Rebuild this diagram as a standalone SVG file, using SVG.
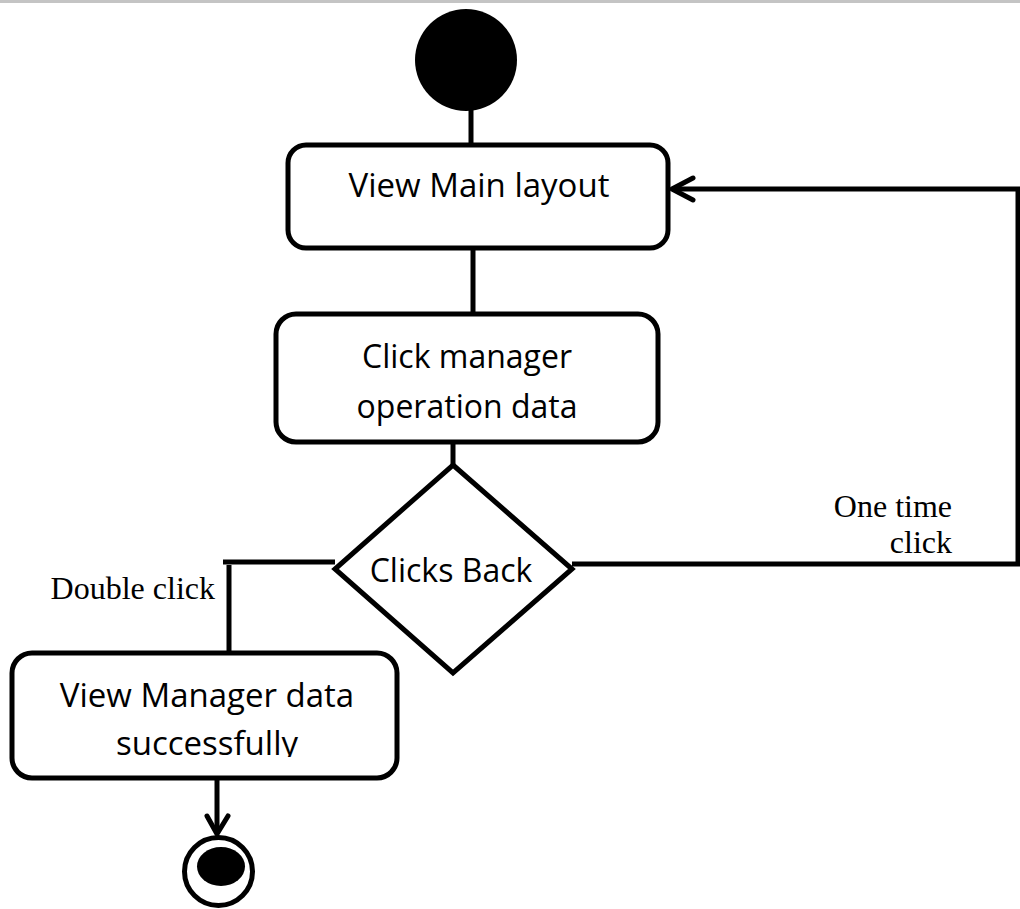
<svg xmlns="http://www.w3.org/2000/svg" width="1020" height="909" viewBox="0 0 1020 909">
<style>
.box{fill:#fff;stroke:#000;stroke-width:5}
.lbl{font-family:"Open Sans","Noto Sans",sans-serif;font-size:32px;fill:#000;text-anchor:middle}
.big{font-size:33px}
.note{font-family:"Liberation Serif","Times New Roman",serif;font-size:32px;fill:#000}
.edge{fill:none;stroke:#000;stroke-width:5}
.head{fill:none;stroke:#000;stroke-width:5;stroke-linecap:round;stroke-linejoin:round}
</style>
<defs>
<clipPath id="clip3"><rect x="0" y="640" width="420" height="117"/></clipPath>
</defs>
<rect x="0" y="0" width="1020" height="3" fill="#c4c4c4"/>
<g id="connectors">
<line class="edge" x1="471" y1="108" x2="471" y2="146"/>
<line class="edge" x1="473" y1="248" x2="473" y2="315"/>
<line class="edge" x1="453" y1="442" x2="453" y2="466"/>
<polyline class="edge" points="335,562 223,562"/>
<line class="edge" x1="229" y1="565" x2="229" y2="653"/>
<polyline class="edge" points="572,564 1018,564 1018,189 672,189"/>
<polyline class="head" points="693,178 672,189 693,200"/>
<line class="edge" x1="217" y1="778" x2="217" y2="833"/>
<polyline class="head" points="207,816 217,834 228,816"/>
</g>
<g id="start">
<circle cx="466" cy="60" r="51" fill="#000"/>
</g>
<g id="view-main-layout">
<rect class="box" x="288" y="145" width="380" height="103" rx="18"/>
<text class="lbl big" x="479" y="197">View Main layout</text>
</g>
<g id="click-manager">
<rect class="box" x="276" y="314" width="382" height="128" rx="20"/>
<text class="lbl" x="467" y="368">Click manager</text>
<text class="lbl" x="467" y="418">operation data</text>
</g>
<g id="clicks-back">
<polygon class="box" points="453,465 572,569 453,673 335,569"/>
<text class="lbl" x="451" y="582">Clicks Back</text>
</g>
<g id="view-manager-data">
<rect class="box" x="12" y="653" width="385" height="125" rx="20"/>
<text class="lbl big" x="207" y="707">View Manager data</text>
<text class="lbl big" x="207" y="755" clip-path="url(#clip3)">successfully</text>
</g>
<g id="end">
<circle cx="218.5" cy="871.5" r="34" fill="#fff" stroke="#000" stroke-width="5"/>
<ellipse cx="221" cy="866.5" rx="24" ry="19.5" fill="#000"/>
</g>
<g id="labels">
<text class="note" x="215" y="599" text-anchor="end">Double click</text>
<text class="note" x="952" y="517" text-anchor="end">One time</text>
<text class="note" x="952" y="553" text-anchor="end">click</text>
</g>
</svg>
